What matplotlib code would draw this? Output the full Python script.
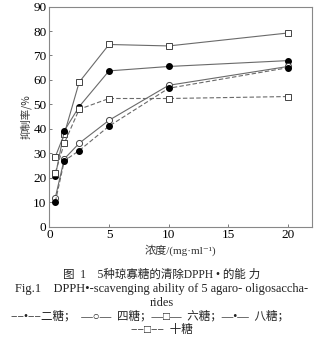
import matplotlib
matplotlib.use("Agg")
import matplotlib.pyplot as plt

plt.rcParams['font.family'] = ['Liberation Serif', 'Noto Sans CJK SC', 'DejaVu Sans']

conc = [0.5, 1.25, 2.5, 5, 10, 20]
di = [10.2, 26.9, 31.1, 41.1, 56.6, 65.0]      # 二糖
tetra = [11.9, 27.7, 34.1, 43.5, 57.8, 65.5]   # 四糖
hexa = [28.6, 37.9, 59.1, 74.5, 73.9, 79.2]    # 六糖
octa = [20.7, 39.2, 49.1, 63.7, 65.5, 67.9]    # 八糖
deca = [22.1, 34.1, 48.0, 52.4, 52.4, 53.2]    # 十糖

xticks = [0, 5, 10, 15, 20]
yticks = [0, 10, 20, 30, 40, 50, 60, 70, 80, 90]

fig = plt.figure(figsize=(3.36, 3.47), dpi=100)
ax = fig.add_axes([0.147, 0.347, 0.781, 0.634])

lc = '#6a6a6a'
ms = 4.0
ax.plot(conc, hexa, '-', color=lc, lw=0.8, marker='s', mfc='white', mec='#444444', mew=0.7, ms=ms)
ax.plot(conc, octa, '-', color=lc, lw=0.8, marker='o', mfc='black', mec='black', ms=ms)
ax.plot(conc, deca, '--', color=lc, lw=0.8, dashes=(4, 2), marker='s', mfc='white', mec='#444444', mew=0.7, ms=ms)
ax.plot(conc, tetra, '-', color=lc, lw=0.8, marker='o', mfc='white', mec='#444444', mew=0.7, ms=ms + 0.4)
ax.plot(conc, di, '--', color=lc, lw=0.8, dashes=(4, 2), marker='o', mfc='black', mec='black', ms=ms)

ax.set_xlim(0, 22)
ax.set_ylim(0, 90)
ax.set_xticks(xticks)
ax.set_yticks(yticks)
ax.tick_params(direction='in', length=2, width=0.6, color='#666666', labelsize=9.5, pad=2)
for s in ax.spines.values():
    s.set_color('#888888')
    s.set_linewidth(0.8)

cjk = ['Noto Sans CJK SC', 'DejaVu Sans']
mix = ['Liberation Serif', 'Noto Sans CJK SC', 'DejaVu Sans']
ax.set_ylabel('抑制率/%', family=cjk, fontsize=7.5, color='#333333', labelpad=1)
ax.set_xlabel('浓度/(mg·ml⁻¹)', family=mix, fontsize=8, color='#333333', labelpad=2)

cx = 0.482
fig.text(cx, 1 - 275/347, '图  1    5种琼寡糖的清除DPPH • 的能 力', ha='center', va='center', fontsize=8.3, family=mix, color='#222222')
fig.text(cx, 1 - 289/347, 'Fig.1    DPPH•-scavenging ability of 5 agaro- oligosaccha-', ha='center', va='center', fontsize=8.9, family=mix, color='#222222')
fig.text(cx, 1 - 303/347, 'rides', ha='center', va='center', fontsize=8.9, family=mix, color='#222222')
fig.text(0.445, 1 - 316/347, '−−•−−二糖；  —○—  四糖；—□—  六糖；—•—  八糖；', ha='center', va='center', fontsize=8.3, family=mix, color='#222222')
fig.text(cx, 1 - 330/347, '−−□−−  十糖', ha='center', va='center', fontsize=8.3, family=mix, color='#222222')

fig.savefig('out.png', dpi=100)
